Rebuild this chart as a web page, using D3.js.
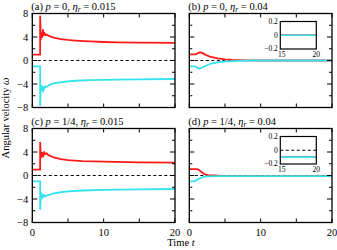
<!DOCTYPE html>
<html><head><meta charset="utf-8">
<script src="https://cdn.jsdelivr.net/npm/d3@7"></script>
<style>body{margin:0;background:#fff}svg{display:block;font-family:"Liberation Serif","Times New Roman",serif}</style>
</head><body><svg id="c" width="337" height="250"></svg>
<script>
// ---- data ----
const titles = ["(a)", "(b)", "(c)", "(d)"];
const pLabels = ["0", "0", "1/4", "1/4"];
const etaLabels = ["0.015", "0.04", "0.015", "0.04"];
const yTicks = [-8, -4, 0, 4, 8];
const xTicks = [0, 10, 20];
const insetYTicks = [-0.2, 0, 0.2];
const insetXTicks = [15, 20];

const tRedA  = [0, 1.1, 1.1, 1.2, 1.3, 1.4, 1.5, 1.6, 1.7, 1.85, 2.0, 2.5, 3, 4, 5, 6, 8, 10, 12, 15, 20];
const redA   = [1, 1, 7.5, 3.6, 4.6, 4.0, 5.2, 4.3, 4.7, 4.3, 4.4, 4.1, 3.9, 3.65, 3.5, 3.4, 3.25, 3.15, 3.1, 3.05, 3.0];
const tCyanA = [0, 1.1, 1.1, 1.2, 1.3, 1.4, 1.5, 1.6, 1.7, 1.85, 2.0, 2.5, 3, 4, 5, 6, 8, 10, 12, 15, 20];
const cyanA  = [-1, -1, -7.6, -4.2, -5.0, -4.4, -5.3, -4.5, -4.8, -4.4, -4.5, -4.1, -3.9, -3.7, -3.55, -3.45, -3.35, -3.3, -3.25, -3.2, -3.15];

const tRedB  = [0, 0.9, 1.2, 1.5, 1.8, 2.2, 3, 4, 5, 6, 8, 10, 15, 20];
const redB   = [1.05, 1.05, 1.25, 1.4, 1.3, 1.0, 0.6, 0.35, 0.2, 0.1, 0.03, 0, 0, 0];
const tCyanB = [0, 0.8, 1.0, 1.4, 1.8, 2.3, 3, 4, 5, 7, 9, 15, 20];
const cyanB  = [-1, -1, -1.1, -1.4, -1.2, -0.9, -0.55, -0.3, -0.15, -0.05, 0, 0, 0];

const tRedC  = [0, 1.1, 1.1, 1.2, 1.35, 1.5, 1.65, 1.8, 2.0, 2.2, 2.5, 3, 4, 5, 7, 10, 15, 20];
const redC   = [1, 1, 5.6, 3.0, 3.9, 3.2, 4.0, 3.6, 3.8, 3.5, 3.35, 3.1, 2.8, 2.6, 2.45, 2.35, 2.25, 2.2];
const tCyanC = [0, 1.1, 1.1, 1.25, 1.45, 1.6, 1.8, 2.0, 2.5, 3, 4, 5, 7, 10, 15, 20];
const cyanC  = [-1, -1, -5.7, -3.0, -3.8, -3.3, -3.6, -3.4, -3.25, -3.05, -2.85, -2.7, -2.55, -2.45, -2.35, -2.3];

const tRedD  = [0, 1.0, 1.3, 1.7, 2.1, 2.6, 3.5, 5, 15, 20];
const redD   = [1.1, 1.1, 1.0, 0.6, 0.25, 0.08, 0, -0.1, -0.1, -0.1];
const tCyanD = [0, 0.6, 0.9, 1.3, 1.8, 2.4, 4, 15, 20];
const cyanD  = [-1, -1, -0.9, -0.6, -0.3, -0.15, -0.1, -0.1, -0.1];

const series = [
  [[tRedA, redA], [tCyanA, cyanA]],
  [[tRedB, redB], [tCyanB, cyanB]],
  [[tRedC, redC], [tCyanC, cyanC]],
  [[tRedD, redD], [tCyanD, cyanD]]
];
const colors = ["#ff1a1a", "#33e3ee"];
const hasInset = [false, true, false, true];

// ---- layout ----
const svg = d3.select("#c");
const colX = [32.3, 189.3], pw = 142.7;
const rowY = [13.5, 128.5], ph = 94;

for (let i = 0; i < 4; i++) {
  const x0 = colX[i % 2], y0 = rowY[Math.floor(i / 2)];
  const g = svg.append("g").attr("transform", `translate(${x0},${y0})`);
  const x = d3.scaleLinear().domain([0, 20]).range([0, pw]);
  const y = d3.scaleLinear().domain([-8, 8]).range([ph, 0]);
  const cid = "clip" + i;
  g.append("clipPath").attr("id", cid).append("rect").attr("width", pw).attr("height", ph);
  const pg = g.append("g").attr("clip-path", `url(#${cid})`);

  pg.append("line").attr("x1", 0).attr("x2", pw).attr("y1", y(0)).attr("y2", y(0))
    .attr("stroke", "#000").attr("stroke-width", 1).attr("stroke-dasharray", "3,2.5");
  const line = d3.line().x(d => x(d[0])).y(d => y(d[1]));
  series[i].forEach((s, k) => {
    const pts = s[0].map((t, j) => [t, s[1][j]]);
    pg.append("path").attr("d", line(pts)).attr("fill", "none")
      .attr("stroke", colors[k]).attr("stroke-width", 1.8).attr("stroke-linejoin", "round");
  });

  // ticks
  const tk = g.append("g").attr("stroke", "#000").attr("stroke-width", 1);
  d3.range(-8, 8.1, 2).forEach(v => {
    const L = (v % 4 === 0) ? 5 : 3;
    tk.append("line").attr("x1", 0).attr("x2", L).attr("y1", y(v)).attr("y2", y(v));
    tk.append("line").attr("x1", pw).attr("x2", pw - L).attr("y1", y(v)).attr("y2", y(v));
  });
  d3.range(0, 20.1, 5).forEach(v => {
    tk.append("line").attr("x1", x(v)).attr("x2", x(v)).attr("y1", ph).attr("y2", ph - 4);
    tk.append("line").attr("x1", x(v)).attr("x2", x(v)).attr("y1", 0).attr("y2", 4);
  });
  g.append("rect").attr("width", pw).attr("height", ph).attr("fill", "none")
    .attr("stroke", "#000").attr("stroke-width", 1.3);

  if (i % 2 === 0) {
    yTicks.forEach(v => {
      g.append("text").attr("x", -4).attr("y", y(v)).attr("dy", "0.35em")
        .attr("text-anchor", "end").attr("font-size", 10.5).text(v < 0 ? "\u2212" + (-v) : v);
    });
  }
  if (i >= 2) {
    xTicks.forEach(v => {
      g.append("text").attr("x", x(v)).attr("y", ph + 13).attr("text-anchor", "middle")
        .attr("font-size", 10.5).text(v);
    });
  }
  // title
  const tt = g.append("text").attr("x", -1).attr("y", -4).attr("font-size", 10.5);
  tt.append("tspan").text(titles[i] + " ");
  tt.append("tspan").attr("font-style", "italic").text("p");
  tt.append("tspan").text(" = " + pLabels[i] + ", ");
  tt.append("tspan").attr("font-style", "italic").text("\u03b7");
  tt.append("tspan").attr("font-style", "italic").attr("font-size", 7.5).attr("dy", 2.5).text("r");
  tt.append("tspan").attr("dy", -2.5).text(" = " + etaLabels[i]);

  if (hasInset[i]) {
    const ix0 = 91, iy0 = 8, iw = 36, ih = 27.5;
    const ig = g.append("g").attr("transform", `translate(${ix0},${iy0})`);
    const xi = d3.scaleLinear().domain([15, 20]).range([0, iw]);
    const yi = d3.scaleLinear().domain([-0.2, 0.2]).range([ih, 0]);
    ig.append("rect").attr("width", iw).attr("height", ih).attr("fill", "#fff");
    const icid = "iclip" + i;
    ig.append("clipPath").attr("id", icid).append("rect").attr("width", iw).attr("height", ih);
    const ipg = ig.append("g").attr("clip-path", `url(#${icid})`);
    ipg.append("line").attr("x1", 0).attr("x2", iw).attr("y1", yi(0)).attr("y2", yi(0))
      .attr("stroke", "#000").attr("stroke-width", 1).attr("stroke-dasharray", "3,2.5");
    const iline = d3.line().x(d => xi(d[0])).y(d => yi(d[1]));
    series[i].forEach((s, k) => {
      const pts = s[0].map((t, j) => [t, s[1][j]]).filter(d => d[0] >= 15);
      ipg.append("path").attr("d", iline(pts)).attr("fill", "none")
        .attr("stroke", colors[k]).attr("stroke-width", 1.6);
    });
    ig.append("rect").attr("width", iw).attr("height", ih).attr("fill", "none")
      .attr("stroke", "#000").attr("stroke-width", 1.2);
    insetYTicks.forEach(v => {
      ig.append("text").attr("x", -2.5).attr("y", yi(v) - (v < 0 ? 1 : 0)).attr("dy", "0.35em").attr("text-anchor", "end")
        .attr("font-size", 7.5).text(v < 0 ? "\u2212" + (-v) : v);
    });
    insetXTicks.forEach(v => {
      ig.append("text").attr("x", xi(v) + (v === 15 ? 1.5 : 0)).attr("y", ih + 8).attr("text-anchor", "middle")
        .attr("font-size", 7.5).text(v);
    });
  }
}

// axis labels
const yl = svg.append("text").attr("transform", "translate(9,118) rotate(-90)")
  .attr("text-anchor", "middle").attr("font-size", 10.5);
yl.append("tspan").text("Angular velocity ");
yl.append("tspan").attr("font-style", "italic").text("\u03c9");
const xl = svg.append("text").attr("x", 181).attr("y", 246).attr("text-anchor", "middle").attr("font-size", 10.5);
xl.append("tspan").text("Time  ");
xl.append("tspan").attr("font-style", "italic").text("t");
</script></body></html>
